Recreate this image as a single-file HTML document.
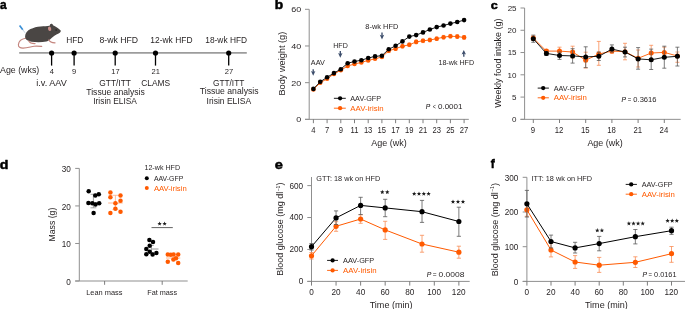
<!DOCTYPE html>
<html><head><meta charset="utf-8"><title>Figure 1</title>
<style>
html,body{margin:0;padding:0;background:#fff;}
body{width:685px;height:309px;overflow:hidden;}
svg{display:block;font-family:"Liberation Sans", sans-serif;will-change:transform;filter:blur(0.3px);}
</style></head><body>
<svg width="685" height="309" viewBox="0 0 685 309">
<rect width="685" height="309" fill="#fff"/>
<g fill="#231f20">
<text x="0.06" y="8.90" font-size="13" fill="#000" font-weight="bold" textLength="6.61" lengthAdjust="spacingAndGlyphs" stroke="#000" stroke-width="0.5" stroke-linejoin="round">a</text>
<g>
<path d="M25.6,38.2 C22,38.8 18.7,41.2 18.4,44.6 C18.2,47.2 20.2,48.1 23,48.1 C27.5,48.0 31,46.6 34.2,46.2 C37,45.9 39.5,46.2 41.7,46.4" fill="none" stroke="#c4857e" stroke-width="1.15" stroke-linecap="round"/>
<path d="M25.1,36.3 C25.2,33.5 27.5,30.5 30.5,29.1 C33.5,27.6 37,26.6 40.5,26.4 C44,26.2 47,26.3 49.6,25.8 L50.2,24.2 C50.8,23.4 52.6,23.4 53,25.2 C55.5,26.3 58.6,28.4 60.9,30.7 C60.6,32 59.7,33 58.6,33.5 C57,34.2 55.8,35 54.8,35.6 C53.6,36.4 52.6,37.2 51.6,38 C50.4,39.2 48.5,41 46.4,41.5 C42,42.3 36,42.3 31.4,41.7 C28.6,41.3 26.4,40.3 25.6,38.8 C25.2,38 25.1,37.1 25.1,36.3 Z" fill="#4a4644"/>
<ellipse cx="49.6" cy="28.8" rx="1.6" ry="2.2" transform="rotate(-15 49.6 28.8)" fill="#c98f8a"/>
<circle cx="56.1" cy="29.9" r="0.75" fill="#1e1b1a"/>
<path d="M28.8,41.0 C29.6,42.8 31.4,43.6 35.0,43.6" fill="none" stroke="#c4857e" stroke-width="1.3" stroke-linecap="round"/>
<path d="M48.9,40.0 C49.6,41.6 51.0,42.6 55.0,42.8" fill="none" stroke="#c4857e" stroke-width="1.3" stroke-linecap="round"/>
<line x1="19.6" y1="25.6" x2="22.8" y2="29.7" stroke="#3a8fd6" stroke-width="1.7"/>
<line x1="22.8" y1="29.7" x2="25.1" y2="32.9" stroke="#9db9d0" stroke-width="0.6"/>
</g>
<line x1="19.20" y1="52.85" x2="246.80" y2="52.85" stroke="#9c9c9c" stroke-width="1.8"/>
<line x1="51.60" y1="53.00" x2="51.60" y2="65.60" stroke="#000000" stroke-width="1.3"/>
<circle cx="51.60" cy="53.00" r="2.6" fill="#000000"/>
<line x1="74.10" y1="53.00" x2="74.10" y2="65.60" stroke="#000000" stroke-width="1.3"/>
<circle cx="74.10" cy="53.00" r="2.6" fill="#000000"/>
<line x1="115.20" y1="53.00" x2="115.20" y2="65.60" stroke="#000000" stroke-width="1.3"/>
<circle cx="115.20" cy="53.00" r="2.6" fill="#000000"/>
<line x1="155.50" y1="53.00" x2="155.50" y2="65.60" stroke="#000000" stroke-width="1.3"/>
<circle cx="155.50" cy="53.00" r="2.6" fill="#000000"/>
<line x1="228.70" y1="53.00" x2="228.70" y2="65.60" stroke="#000000" stroke-width="1.3"/>
<circle cx="228.70" cy="53.00" r="2.6" fill="#000000"/>
<text x="66.15" y="42.70" font-size="8.2" textLength="17.14" lengthAdjust="spacingAndGlyphs">HFD</text>
<text x="99.43" y="42.70" font-size="8.2" textLength="38.57" lengthAdjust="spacingAndGlyphs">8-wk HFD</text>
<text x="150.37" y="42.70" font-size="8.2" textLength="42.12" lengthAdjust="spacingAndGlyphs">12-wk HFD</text>
<text x="205.28" y="42.70" font-size="8.2" textLength="41.81" lengthAdjust="spacingAndGlyphs">18-wk HFD</text>
<text x="49.73" y="73.80" font-size="6.4" textLength="4.20" lengthAdjust="spacingAndGlyphs">4</text>
<text x="71.93" y="73.80" font-size="6.4" textLength="4.20" lengthAdjust="spacingAndGlyphs">9</text>
<text x="111.22" y="73.80" font-size="6.4" textLength="8.40" lengthAdjust="spacingAndGlyphs">17</text>
<text x="151.48" y="73.80" font-size="6.4" textLength="8.40" lengthAdjust="spacingAndGlyphs">21</text>
<text x="224.88" y="73.80" font-size="6.4" textLength="8.40" lengthAdjust="spacingAndGlyphs">27</text>
<text x="0.00" y="73.20" font-size="8.2" textLength="39.26" lengthAdjust="spacingAndGlyphs">Age (wks)</text>
<text x="36.24" y="85.60" font-size="8.2" textLength="30.62" lengthAdjust="spacingAndGlyphs">i.v. AAV</text>
<text x="99.31" y="85.70" font-size="8.2" textLength="31.64" lengthAdjust="spacingAndGlyphs">GTT/ITT</text>
<text x="86.27" y="94.60" font-size="8.2" textLength="58.50" lengthAdjust="spacingAndGlyphs">Tissue analysis</text>
<text x="93.25" y="104.40" font-size="8.2" textLength="43.61" lengthAdjust="spacingAndGlyphs">Irisin ELISA</text>
<text x="141.21" y="85.70" font-size="8.2" textLength="28.95" lengthAdjust="spacingAndGlyphs">CLAMS</text>
<text x="212.91" y="85.70" font-size="8.2" textLength="31.43" lengthAdjust="spacingAndGlyphs">GTT/ITT</text>
<text x="199.76" y="94.00" font-size="8.2" textLength="58.81" lengthAdjust="spacingAndGlyphs">Tissue analysis</text>
<text x="206.53" y="103.80" font-size="8.2" textLength="44.63" lengthAdjust="spacingAndGlyphs">Irisin ELISA</text>
<text x="274.79" y="8.80" font-size="13" fill="#000" font-weight="bold" textLength="8.41" lengthAdjust="spacingAndGlyphs" stroke="#000" stroke-width="0.5" stroke-linejoin="round">b</text>
<line x1="309.20" y1="9.30" x2="309.20" y2="119.35" stroke="#8f8f8f" stroke-width="1"/>
<line x1="305.00" y1="119.35" x2="468.80" y2="119.35" stroke="#8f8f8f" stroke-width="1"/>
<line x1="305.00" y1="119.35" x2="309.20" y2="119.35" stroke="#8f8f8f" stroke-width="1"/>
<text x="296.24" y="122.30" font-size="8.0" textLength="4.98" lengthAdjust="spacingAndGlyphs">0</text>
<line x1="305.00" y1="82.67" x2="309.20" y2="82.67" stroke="#8f8f8f" stroke-width="1"/>
<text x="291.26" y="85.62" font-size="8.0" textLength="9.97" lengthAdjust="spacingAndGlyphs">20</text>
<line x1="305.00" y1="45.98" x2="309.20" y2="45.98" stroke="#8f8f8f" stroke-width="1"/>
<text x="291.26" y="48.93" font-size="8.0" textLength="9.97" lengthAdjust="spacingAndGlyphs">40</text>
<line x1="305.00" y1="9.30" x2="309.20" y2="9.30" stroke="#8f8f8f" stroke-width="1"/>
<text x="291.26" y="12.25" font-size="8.0" textLength="9.97" lengthAdjust="spacingAndGlyphs">60</text>
<line x1="313.40" y1="119.35" x2="313.40" y2="123.20" stroke="#6f6f6f" stroke-width="0.9"/>
<text x="311.31" y="132.80" font-size="8.2" textLength="4.24" lengthAdjust="spacingAndGlyphs">4</text>
<line x1="327.10" y1="119.35" x2="327.10" y2="123.20" stroke="#6f6f6f" stroke-width="0.9"/>
<text x="324.96" y="132.80" font-size="8.2" textLength="4.24" lengthAdjust="spacingAndGlyphs">7</text>
<line x1="340.80" y1="119.35" x2="340.80" y2="123.20" stroke="#6f6f6f" stroke-width="0.9"/>
<text x="338.66" y="132.80" font-size="8.2" textLength="4.24" lengthAdjust="spacingAndGlyphs">9</text>
<line x1="354.50" y1="119.35" x2="354.50" y2="123.20" stroke="#6f6f6f" stroke-width="0.9"/>
<text x="350.46" y="132.80" font-size="8.2" textLength="7.92" lengthAdjust="spacingAndGlyphs">11</text>
<line x1="368.20" y1="119.35" x2="368.20" y2="123.20" stroke="#6f6f6f" stroke-width="0.9"/>
<text x="363.88" y="132.80" font-size="8.2" textLength="8.48" lengthAdjust="spacingAndGlyphs">13</text>
<line x1="381.90" y1="119.35" x2="381.90" y2="123.20" stroke="#6f6f6f" stroke-width="0.9"/>
<text x="377.58" y="132.80" font-size="8.2" textLength="8.48" lengthAdjust="spacingAndGlyphs">15</text>
<line x1="395.60" y1="119.35" x2="395.60" y2="123.20" stroke="#6f6f6f" stroke-width="0.9"/>
<text x="391.28" y="132.80" font-size="8.2" textLength="8.48" lengthAdjust="spacingAndGlyphs">17</text>
<line x1="409.30" y1="119.35" x2="409.30" y2="123.20" stroke="#6f6f6f" stroke-width="0.9"/>
<text x="404.98" y="132.80" font-size="8.2" textLength="8.48" lengthAdjust="spacingAndGlyphs">19</text>
<line x1="423.00" y1="119.35" x2="423.00" y2="123.20" stroke="#6f6f6f" stroke-width="0.9"/>
<text x="418.73" y="132.80" font-size="8.2" textLength="8.48" lengthAdjust="spacingAndGlyphs">21</text>
<line x1="436.70" y1="119.35" x2="436.70" y2="123.20" stroke="#6f6f6f" stroke-width="0.9"/>
<text x="432.43" y="132.80" font-size="8.2" textLength="8.48" lengthAdjust="spacingAndGlyphs">23</text>
<line x1="450.40" y1="119.35" x2="450.40" y2="123.20" stroke="#6f6f6f" stroke-width="0.9"/>
<text x="446.13" y="132.80" font-size="8.2" textLength="8.48" lengthAdjust="spacingAndGlyphs">25</text>
<line x1="464.10" y1="119.35" x2="464.10" y2="123.20" stroke="#6f6f6f" stroke-width="0.9"/>
<text x="459.83" y="132.80" font-size="8.2" textLength="8.48" lengthAdjust="spacingAndGlyphs">27</text>
<text x="371.30" y="145.60" font-size="9" textLength="35.47" lengthAdjust="spacingAndGlyphs">Age (wk)</text>
<text x="-0.72" y="0" transform="translate(285.20,94.90) rotate(-90)" font-size="9" textLength="63.89" lengthAdjust="spacingAndGlyphs">Body weight (g)</text>
<line x1="388.75" y1="49.00" x2="388.75" y2="52.60" stroke="#f98d55" stroke-width="0.7"/>
<line x1="387.25" y1="49.00" x2="390.25" y2="49.00" stroke="#f98d55" stroke-width="0.7"/>
<line x1="387.25" y1="52.60" x2="390.25" y2="52.60" stroke="#f98d55" stroke-width="0.7"/>
<line x1="395.60" y1="46.90" x2="395.60" y2="50.50" stroke="#f98d55" stroke-width="0.7"/>
<line x1="394.10" y1="46.90" x2="397.10" y2="46.90" stroke="#f98d55" stroke-width="0.7"/>
<line x1="394.10" y1="50.50" x2="397.10" y2="50.50" stroke="#f98d55" stroke-width="0.7"/>
<line x1="402.45" y1="44.40" x2="402.45" y2="48.00" stroke="#f98d55" stroke-width="0.7"/>
<line x1="400.95" y1="44.40" x2="403.95" y2="44.40" stroke="#f98d55" stroke-width="0.7"/>
<line x1="400.95" y1="48.00" x2="403.95" y2="48.00" stroke="#f98d55" stroke-width="0.7"/>
<line x1="409.30" y1="43.00" x2="409.30" y2="46.60" stroke="#f98d55" stroke-width="0.7"/>
<line x1="407.80" y1="43.00" x2="410.80" y2="43.00" stroke="#f98d55" stroke-width="0.7"/>
<line x1="407.80" y1="46.60" x2="410.80" y2="46.60" stroke="#f98d55" stroke-width="0.7"/>
<line x1="416.15" y1="40.10" x2="416.15" y2="43.70" stroke="#f98d55" stroke-width="0.7"/>
<line x1="414.65" y1="40.10" x2="417.65" y2="40.10" stroke="#f98d55" stroke-width="0.7"/>
<line x1="414.65" y1="43.70" x2="417.65" y2="43.70" stroke="#f98d55" stroke-width="0.7"/>
<line x1="423.00" y1="39.00" x2="423.00" y2="42.60" stroke="#f98d55" stroke-width="0.7"/>
<line x1="421.50" y1="39.00" x2="424.50" y2="39.00" stroke="#f98d55" stroke-width="0.7"/>
<line x1="421.50" y1="42.60" x2="424.50" y2="42.60" stroke="#f98d55" stroke-width="0.7"/>
<line x1="429.85" y1="38.20" x2="429.85" y2="41.80" stroke="#f98d55" stroke-width="0.7"/>
<line x1="428.35" y1="38.20" x2="431.35" y2="38.20" stroke="#f98d55" stroke-width="0.7"/>
<line x1="428.35" y1="41.80" x2="431.35" y2="41.80" stroke="#f98d55" stroke-width="0.7"/>
<line x1="436.70" y1="36.90" x2="436.70" y2="40.50" stroke="#f98d55" stroke-width="0.7"/>
<line x1="435.20" y1="36.90" x2="438.20" y2="36.90" stroke="#f98d55" stroke-width="0.7"/>
<line x1="435.20" y1="40.50" x2="438.20" y2="40.50" stroke="#f98d55" stroke-width="0.7"/>
<line x1="443.55" y1="35.40" x2="443.55" y2="39.00" stroke="#f98d55" stroke-width="0.7"/>
<line x1="442.05" y1="35.40" x2="445.05" y2="35.40" stroke="#f98d55" stroke-width="0.7"/>
<line x1="442.05" y1="39.00" x2="445.05" y2="39.00" stroke="#f98d55" stroke-width="0.7"/>
<line x1="450.40" y1="34.40" x2="450.40" y2="38.00" stroke="#f98d55" stroke-width="0.7"/>
<line x1="448.90" y1="34.40" x2="451.90" y2="34.40" stroke="#f98d55" stroke-width="0.7"/>
<line x1="448.90" y1="38.00" x2="451.90" y2="38.00" stroke="#f98d55" stroke-width="0.7"/>
<line x1="457.25" y1="34.80" x2="457.25" y2="38.40" stroke="#f98d55" stroke-width="0.7"/>
<line x1="455.75" y1="34.80" x2="458.75" y2="34.80" stroke="#f98d55" stroke-width="0.7"/>
<line x1="455.75" y1="38.40" x2="458.75" y2="38.40" stroke="#f98d55" stroke-width="0.7"/>
<line x1="464.10" y1="35.60" x2="464.10" y2="39.20" stroke="#f98d55" stroke-width="0.7"/>
<line x1="462.60" y1="35.60" x2="465.60" y2="35.60" stroke="#f98d55" stroke-width="0.7"/>
<line x1="462.60" y1="39.20" x2="465.60" y2="39.20" stroke="#f98d55" stroke-width="0.7"/>
<polyline points="313.40,89.40 320.25,82.80 327.10,78.70 333.95,74.00 340.80,70.20 347.65,66.00 354.50,64.00 361.35,62.40 368.20,60.40 375.05,58.80 381.90,57.00 388.75,50.80 395.60,48.70 402.45,46.20 409.30,44.80 416.15,41.90 423.00,40.80 429.85,40.00 436.70,38.70 443.55,37.20 450.40,36.20 457.25,36.60 464.10,37.40" fill="none" stroke="#ff5a00" stroke-width="0.9" stroke-linejoin="round"/>
<circle cx="313.40" cy="89.40" r="2.3" fill="#ff5a00"/>
<circle cx="320.25" cy="82.80" r="2.3" fill="#ff5a00"/>
<circle cx="327.10" cy="78.70" r="2.3" fill="#ff5a00"/>
<circle cx="333.95" cy="74.00" r="2.3" fill="#ff5a00"/>
<circle cx="340.80" cy="70.20" r="2.3" fill="#ff5a00"/>
<circle cx="347.65" cy="66.00" r="2.3" fill="#ff5a00"/>
<circle cx="354.50" cy="64.00" r="2.3" fill="#ff5a00"/>
<circle cx="361.35" cy="62.40" r="2.3" fill="#ff5a00"/>
<circle cx="368.20" cy="60.40" r="2.3" fill="#ff5a00"/>
<circle cx="375.05" cy="58.80" r="2.3" fill="#ff5a00"/>
<circle cx="381.90" cy="57.00" r="2.3" fill="#ff5a00"/>
<circle cx="388.75" cy="50.80" r="2.3" fill="#ff5a00"/>
<circle cx="395.60" cy="48.70" r="2.3" fill="#ff5a00"/>
<circle cx="402.45" cy="46.20" r="2.3" fill="#ff5a00"/>
<circle cx="409.30" cy="44.80" r="2.3" fill="#ff5a00"/>
<circle cx="416.15" cy="41.90" r="2.3" fill="#ff5a00"/>
<circle cx="423.00" cy="40.80" r="2.3" fill="#ff5a00"/>
<circle cx="429.85" cy="40.00" r="2.3" fill="#ff5a00"/>
<circle cx="436.70" cy="38.70" r="2.3" fill="#ff5a00"/>
<circle cx="443.55" cy="37.20" r="2.3" fill="#ff5a00"/>
<circle cx="450.40" cy="36.20" r="2.3" fill="#ff5a00"/>
<circle cx="457.25" cy="36.60" r="2.3" fill="#ff5a00"/>
<circle cx="464.10" cy="37.40" r="2.3" fill="#ff5a00"/>
<polyline points="313.40,88.90 320.25,81.80 327.10,77.30 333.95,73.10 340.80,69.20 347.65,63.20 354.50,61.50 361.35,60.20 368.20,58.00 375.05,56.40 381.90,55.70 388.75,49.30 395.60,45.80 402.45,41.40 409.30,36.60 416.15,35.10 423.00,32.40 429.85,29.50 436.70,27.10 443.55,25.50 450.40,23.60 457.25,22.00 464.10,20.10" fill="none" stroke="#000000" stroke-width="0.9" stroke-linejoin="round"/>
<circle cx="313.40" cy="88.90" r="2.3" fill="#000000"/>
<circle cx="320.25" cy="81.80" r="2.3" fill="#000000"/>
<circle cx="327.10" cy="77.30" r="2.3" fill="#000000"/>
<circle cx="333.95" cy="73.10" r="2.3" fill="#000000"/>
<circle cx="340.80" cy="69.20" r="2.3" fill="#000000"/>
<circle cx="347.65" cy="63.20" r="2.3" fill="#000000"/>
<circle cx="354.50" cy="61.50" r="2.3" fill="#000000"/>
<circle cx="361.35" cy="60.20" r="2.3" fill="#000000"/>
<circle cx="368.20" cy="58.00" r="2.3" fill="#000000"/>
<circle cx="375.05" cy="56.40" r="2.3" fill="#000000"/>
<circle cx="381.90" cy="55.70" r="2.3" fill="#000000"/>
<circle cx="388.75" cy="49.30" r="2.3" fill="#000000"/>
<circle cx="395.60" cy="45.80" r="2.3" fill="#000000"/>
<circle cx="402.45" cy="41.40" r="2.3" fill="#000000"/>
<circle cx="409.30" cy="36.60" r="2.3" fill="#000000"/>
<circle cx="416.15" cy="35.10" r="2.3" fill="#000000"/>
<circle cx="423.00" cy="32.40" r="2.3" fill="#000000"/>
<circle cx="429.85" cy="29.50" r="2.3" fill="#000000"/>
<circle cx="436.70" cy="27.10" r="2.3" fill="#000000"/>
<circle cx="443.55" cy="25.50" r="2.3" fill="#000000"/>
<circle cx="450.40" cy="23.60" r="2.3" fill="#000000"/>
<circle cx="457.25" cy="22.00" r="2.3" fill="#000000"/>
<circle cx="464.10" cy="20.10" r="2.3" fill="#000000"/>
<text x="310.80" y="65.40" font-size="7.2" textLength="13.96" lengthAdjust="spacingAndGlyphs">AAV</text>
<line x1="313.20" y1="69.20" x2="313.20" y2="72.80" stroke="#3c4d6b" stroke-width="1.35"/>
<path d="M311.00,71.10 L313.20,72.10 L315.40,71.10 L313.20,75.80 Z" fill="#3c4d6b"/>
<text x="333.24" y="48.10" font-size="7.4" textLength="14.60" lengthAdjust="spacingAndGlyphs">HFD</text>
<line x1="340.30" y1="51.00" x2="340.30" y2="54.80" stroke="#3c4d6b" stroke-width="1.35"/>
<path d="M338.10,53.10 L340.30,54.10 L342.50,53.10 L340.30,57.80 Z" fill="#3c4d6b"/>
<text x="365.37" y="29.00" font-size="7.2" textLength="32.89" lengthAdjust="spacingAndGlyphs">8-wk HFD</text>
<line x1="382.00" y1="32.40" x2="382.00" y2="36.40" stroke="#3c4d6b" stroke-width="1.35"/>
<path d="M379.80,34.70 L382.00,35.70 L384.20,34.70 L382.00,39.40 Z" fill="#3c4d6b"/>
<text x="438.45" y="64.90" font-size="7.2" textLength="35.69" lengthAdjust="spacingAndGlyphs">18-wk HFD</text>
<line x1="463.80" y1="56.70" x2="463.80" y2="52.90" stroke="#3c4d6b" stroke-width="1.35"/>
<path d="M461.60,54.60 L463.80,53.60 L466.00,54.60 L463.80,49.90 Z" fill="#3c4d6b"/>
<line x1="333.90" y1="98.30" x2="345.80" y2="98.30" stroke="#000000" stroke-width="0.9"/>
<circle cx="340.10" cy="98.30" r="2.15" fill="#000000"/>
<line x1="333.90" y1="108.20" x2="345.80" y2="108.20" stroke="#ff5a00" stroke-width="0.9"/>
<circle cx="340.10" cy="108.20" r="2.15" fill="#ff5a00"/>
<text x="350.30" y="100.80" font-size="7.0" textLength="30.80" lengthAdjust="spacingAndGlyphs">AAV-GFP</text>
<text x="350.30" y="110.70" font-size="7.0" fill="#ff5a00" textLength="33.34" lengthAdjust="spacingAndGlyphs">AAV-irisin</text>
<text x="425.86" y="108.90" font-size="7.8" font-style="italic" textLength="4.45" lengthAdjust="spacingAndGlyphs" stroke="#231f20" stroke-width="0.12" stroke-linejoin="round">P</text>
<text x="432.75" y="109.30" font-size="7.3" textLength="3.15" lengthAdjust="spacingAndGlyphs">&lt;</text>
<text x="437.95" y="108.90" font-size="7.3" textLength="24.58" lengthAdjust="spacingAndGlyphs">0.0001</text>
<text x="490.66" y="9.20" font-size="11.5" fill="#000" font-weight="bold" textLength="7.01" lengthAdjust="spacingAndGlyphs" stroke="#000" stroke-width="0.5" stroke-linejoin="round">c</text>
<line x1="524.60" y1="8.00" x2="524.60" y2="119.35" stroke="#8f8f8f" stroke-width="1"/>
<line x1="520.50" y1="119.35" x2="680.70" y2="119.35" stroke="#8f8f8f" stroke-width="1"/>
<line x1="520.50" y1="119.35" x2="524.60" y2="119.35" stroke="#8f8f8f" stroke-width="1"/>
<text x="511.95" y="122.20" font-size="8.0">0</text>
<line x1="520.50" y1="97.08" x2="524.60" y2="97.08" stroke="#8f8f8f" stroke-width="1"/>
<text x="512.08" y="99.93" font-size="8.0">5</text>
<line x1="520.50" y1="74.81" x2="524.60" y2="74.81" stroke="#8f8f8f" stroke-width="1"/>
<text x="507.50" y="77.66" font-size="8.0">10</text>
<line x1="520.50" y1="52.54" x2="524.60" y2="52.54" stroke="#8f8f8f" stroke-width="1"/>
<text x="507.63" y="55.39" font-size="8.0">15</text>
<line x1="520.50" y1="30.27" x2="524.60" y2="30.27" stroke="#8f8f8f" stroke-width="1"/>
<text x="507.50" y="33.12" font-size="8.0">20</text>
<line x1="520.50" y1="8.00" x2="524.60" y2="8.00" stroke="#8f8f8f" stroke-width="1"/>
<text x="507.63" y="10.85" font-size="8.0">25</text>
<line x1="533.30" y1="119.35" x2="533.30" y2="123.00" stroke="#6f6f6f" stroke-width="0.9"/>
<text x="530.81" y="132.80" font-size="8.2" textLength="4.33" lengthAdjust="spacingAndGlyphs">9</text>
<line x1="559.50" y1="119.35" x2="559.50" y2="123.00" stroke="#6f6f6f" stroke-width="0.9"/>
<text x="554.78" y="132.80" font-size="8.2" textLength="8.66" lengthAdjust="spacingAndGlyphs">12</text>
<line x1="585.70" y1="119.35" x2="585.70" y2="123.00" stroke="#6f6f6f" stroke-width="0.9"/>
<text x="580.98" y="132.80" font-size="8.2" textLength="8.66" lengthAdjust="spacingAndGlyphs">15</text>
<line x1="611.90" y1="119.35" x2="611.90" y2="123.00" stroke="#6f6f6f" stroke-width="0.9"/>
<text x="607.18" y="132.80" font-size="8.2" textLength="8.66" lengthAdjust="spacingAndGlyphs">18</text>
<line x1="638.10" y1="119.35" x2="638.10" y2="123.00" stroke="#6f6f6f" stroke-width="0.9"/>
<text x="633.44" y="132.80" font-size="8.2" textLength="8.66" lengthAdjust="spacingAndGlyphs">21</text>
<line x1="664.30" y1="119.35" x2="664.30" y2="123.00" stroke="#6f6f6f" stroke-width="0.9"/>
<text x="659.58" y="132.80" font-size="8.2" textLength="8.66" lengthAdjust="spacingAndGlyphs">24</text>
<text x="587.40" y="145.60" font-size="9" textLength="35.36" lengthAdjust="spacingAndGlyphs">Age (wk)</text>
<text x="0.00" y="0" transform="translate(500.90,107.70) rotate(-90)" font-size="9" textLength="89.16" lengthAdjust="spacingAndGlyphs">Weekly food intake (g)</text>
<line x1="533.30" y1="36.00" x2="533.30" y2="40.50" stroke="#f98d55" stroke-width="0.8"/>
<line x1="531.30" y1="36.00" x2="535.30" y2="36.00" stroke="#f98d55" stroke-width="0.8"/>
<line x1="531.30" y1="40.50" x2="535.30" y2="40.50" stroke="#f98d55" stroke-width="0.8"/>
<line x1="546.40" y1="49.50" x2="546.40" y2="53.00" stroke="#f98d55" stroke-width="0.8"/>
<line x1="544.40" y1="49.50" x2="548.40" y2="49.50" stroke="#f98d55" stroke-width="0.8"/>
<line x1="544.40" y1="53.00" x2="548.40" y2="53.00" stroke="#f98d55" stroke-width="0.8"/>
<line x1="559.50" y1="47.20" x2="559.50" y2="55.00" stroke="#f98d55" stroke-width="0.8"/>
<line x1="557.50" y1="47.20" x2="561.50" y2="47.20" stroke="#f98d55" stroke-width="0.8"/>
<line x1="557.50" y1="55.00" x2="561.50" y2="55.00" stroke="#f98d55" stroke-width="0.8"/>
<line x1="572.60" y1="46.20" x2="572.60" y2="58.00" stroke="#f98d55" stroke-width="0.8"/>
<line x1="570.60" y1="46.20" x2="574.60" y2="46.20" stroke="#f98d55" stroke-width="0.8"/>
<line x1="570.60" y1="58.00" x2="574.60" y2="58.00" stroke="#f98d55" stroke-width="0.8"/>
<line x1="585.70" y1="52.20" x2="585.70" y2="68.00" stroke="#f98d55" stroke-width="0.8"/>
<line x1="583.70" y1="52.20" x2="587.70" y2="52.20" stroke="#f98d55" stroke-width="0.8"/>
<line x1="583.70" y1="68.00" x2="587.70" y2="68.00" stroke="#f98d55" stroke-width="0.8"/>
<line x1="598.80" y1="41.40" x2="598.80" y2="65.30" stroke="#f98d55" stroke-width="0.8"/>
<line x1="596.80" y1="41.40" x2="600.80" y2="41.40" stroke="#f98d55" stroke-width="0.8"/>
<line x1="596.80" y1="65.30" x2="600.80" y2="65.30" stroke="#f98d55" stroke-width="0.8"/>
<line x1="611.90" y1="48.80" x2="611.90" y2="53.40" stroke="#f98d55" stroke-width="0.8"/>
<line x1="609.90" y1="48.80" x2="613.90" y2="48.80" stroke="#f98d55" stroke-width="0.8"/>
<line x1="609.90" y1="53.40" x2="613.90" y2="53.40" stroke="#f98d55" stroke-width="0.8"/>
<line x1="625.00" y1="43.30" x2="625.00" y2="59.80" stroke="#f98d55" stroke-width="0.8"/>
<line x1="623.00" y1="43.30" x2="627.00" y2="43.30" stroke="#f98d55" stroke-width="0.8"/>
<line x1="623.00" y1="59.80" x2="627.00" y2="59.80" stroke="#f98d55" stroke-width="0.8"/>
<line x1="638.10" y1="50.00" x2="638.10" y2="67.00" stroke="#f98d55" stroke-width="0.8"/>
<line x1="636.10" y1="50.00" x2="640.10" y2="50.00" stroke="#f98d55" stroke-width="0.8"/>
<line x1="636.10" y1="67.00" x2="640.10" y2="67.00" stroke="#f98d55" stroke-width="0.8"/>
<line x1="651.20" y1="45.30" x2="651.20" y2="60.80" stroke="#f98d55" stroke-width="0.8"/>
<line x1="649.20" y1="45.30" x2="653.20" y2="45.30" stroke="#f98d55" stroke-width="0.8"/>
<line x1="649.20" y1="60.80" x2="653.20" y2="60.80" stroke="#f98d55" stroke-width="0.8"/>
<line x1="664.30" y1="47.20" x2="664.30" y2="57.80" stroke="#f98d55" stroke-width="0.8"/>
<line x1="662.30" y1="47.20" x2="666.30" y2="47.20" stroke="#f98d55" stroke-width="0.8"/>
<line x1="662.30" y1="57.80" x2="666.30" y2="57.80" stroke="#f98d55" stroke-width="0.8"/>
<line x1="677.40" y1="52.00" x2="677.40" y2="62.30" stroke="#f98d55" stroke-width="0.8"/>
<line x1="675.40" y1="52.00" x2="679.40" y2="52.00" stroke="#f98d55" stroke-width="0.8"/>
<line x1="675.40" y1="62.30" x2="679.40" y2="62.30" stroke="#f98d55" stroke-width="0.8"/>
<polyline points="533.30,38.00 546.40,51.10 559.50,51.10 572.60,52.00 585.70,60.20 598.80,54.00 611.90,51.10 625.00,51.70 638.10,58.30 651.20,53.00 664.30,52.40 677.40,56.00" fill="none" stroke="#ff5a00" stroke-width="0.9" stroke-linejoin="round"/>
<circle cx="533.30" cy="38.00" r="2.5" fill="#ff5a00"/>
<circle cx="546.40" cy="51.10" r="2.5" fill="#ff5a00"/>
<circle cx="559.50" cy="51.10" r="2.5" fill="#ff5a00"/>
<circle cx="572.60" cy="52.00" r="2.5" fill="#ff5a00"/>
<circle cx="585.70" cy="60.20" r="2.5" fill="#ff5a00"/>
<circle cx="598.80" cy="54.00" r="2.5" fill="#ff5a00"/>
<circle cx="611.90" cy="51.10" r="2.5" fill="#ff5a00"/>
<circle cx="625.00" cy="51.70" r="2.5" fill="#ff5a00"/>
<circle cx="638.10" cy="58.30" r="2.5" fill="#ff5a00"/>
<circle cx="651.20" cy="53.00" r="2.5" fill="#ff5a00"/>
<circle cx="664.30" cy="52.40" r="2.5" fill="#ff5a00"/>
<circle cx="677.40" cy="56.00" r="2.5" fill="#ff5a00"/>
<line x1="533.30" y1="35.10" x2="533.30" y2="42.30" stroke="#5a5a5a" stroke-width="0.8"/>
<line x1="531.30" y1="35.10" x2="535.30" y2="35.10" stroke="#5a5a5a" stroke-width="0.8"/>
<line x1="531.30" y1="42.30" x2="535.30" y2="42.30" stroke="#5a5a5a" stroke-width="0.8"/>
<line x1="546.40" y1="51.50" x2="546.40" y2="55.50" stroke="#5a5a5a" stroke-width="0.8"/>
<line x1="544.40" y1="51.50" x2="548.40" y2="51.50" stroke="#5a5a5a" stroke-width="0.8"/>
<line x1="544.40" y1="55.50" x2="548.40" y2="55.50" stroke="#5a5a5a" stroke-width="0.8"/>
<line x1="559.50" y1="52.00" x2="559.50" y2="59.40" stroke="#5a5a5a" stroke-width="0.8"/>
<line x1="557.50" y1="52.00" x2="561.50" y2="52.00" stroke="#5a5a5a" stroke-width="0.8"/>
<line x1="557.50" y1="59.40" x2="561.50" y2="59.40" stroke="#5a5a5a" stroke-width="0.8"/>
<line x1="572.60" y1="48.70" x2="572.60" y2="63.10" stroke="#5a5a5a" stroke-width="0.8"/>
<line x1="570.60" y1="48.70" x2="574.60" y2="48.70" stroke="#5a5a5a" stroke-width="0.8"/>
<line x1="570.60" y1="63.10" x2="574.60" y2="63.10" stroke="#5a5a5a" stroke-width="0.8"/>
<line x1="585.70" y1="46.80" x2="585.70" y2="67.60" stroke="#5a5a5a" stroke-width="0.8"/>
<line x1="583.70" y1="46.80" x2="587.70" y2="46.80" stroke="#5a5a5a" stroke-width="0.8"/>
<line x1="583.70" y1="67.60" x2="587.70" y2="67.60" stroke="#5a5a5a" stroke-width="0.8"/>
<line x1="598.80" y1="52.00" x2="598.80" y2="60.50" stroke="#5a5a5a" stroke-width="0.8"/>
<line x1="596.80" y1="52.00" x2="600.80" y2="52.00" stroke="#5a5a5a" stroke-width="0.8"/>
<line x1="596.80" y1="60.50" x2="600.80" y2="60.50" stroke="#5a5a5a" stroke-width="0.8"/>
<line x1="611.90" y1="44.90" x2="611.90" y2="52.00" stroke="#5a5a5a" stroke-width="0.8"/>
<line x1="609.90" y1="44.90" x2="613.90" y2="44.90" stroke="#5a5a5a" stroke-width="0.8"/>
<line x1="609.90" y1="52.00" x2="613.90" y2="52.00" stroke="#5a5a5a" stroke-width="0.8"/>
<line x1="625.00" y1="47.20" x2="625.00" y2="56.90" stroke="#5a5a5a" stroke-width="0.8"/>
<line x1="623.00" y1="47.20" x2="627.00" y2="47.20" stroke="#5a5a5a" stroke-width="0.8"/>
<line x1="623.00" y1="56.90" x2="627.00" y2="56.90" stroke="#5a5a5a" stroke-width="0.8"/>
<line x1="638.10" y1="47.60" x2="638.10" y2="69.20" stroke="#5a5a5a" stroke-width="0.8"/>
<line x1="636.10" y1="47.60" x2="640.10" y2="47.60" stroke="#5a5a5a" stroke-width="0.8"/>
<line x1="636.10" y1="69.20" x2="640.10" y2="69.20" stroke="#5a5a5a" stroke-width="0.8"/>
<line x1="651.20" y1="49.10" x2="651.20" y2="69.50" stroke="#5a5a5a" stroke-width="0.8"/>
<line x1="649.20" y1="49.10" x2="653.20" y2="49.10" stroke="#5a5a5a" stroke-width="0.8"/>
<line x1="649.20" y1="69.50" x2="653.20" y2="69.50" stroke="#5a5a5a" stroke-width="0.8"/>
<line x1="664.30" y1="46.20" x2="664.30" y2="68.20" stroke="#5a5a5a" stroke-width="0.8"/>
<line x1="662.30" y1="46.20" x2="666.30" y2="46.20" stroke="#5a5a5a" stroke-width="0.8"/>
<line x1="662.30" y1="68.20" x2="666.30" y2="68.20" stroke="#5a5a5a" stroke-width="0.8"/>
<line x1="677.40" y1="47.20" x2="677.40" y2="66.00" stroke="#5a5a5a" stroke-width="0.8"/>
<line x1="675.40" y1="47.20" x2="679.40" y2="47.20" stroke="#5a5a5a" stroke-width="0.8"/>
<line x1="675.40" y1="66.00" x2="679.40" y2="66.00" stroke="#5a5a5a" stroke-width="0.8"/>
<polyline points="533.30,38.80 546.40,53.40 559.50,55.50 572.60,55.90 585.70,56.90 598.80,56.30 611.90,49.10 625.00,52.00 638.10,58.90 651.20,59.80 664.30,57.30 677.40,56.30" fill="none" stroke="#000000" stroke-width="0.9" stroke-linejoin="round"/>
<circle cx="533.30" cy="38.80" r="2.5" fill="#000000"/>
<circle cx="546.40" cy="53.40" r="2.5" fill="#000000"/>
<circle cx="559.50" cy="55.50" r="2.5" fill="#000000"/>
<circle cx="572.60" cy="55.90" r="2.5" fill="#000000"/>
<circle cx="585.70" cy="56.90" r="2.5" fill="#000000"/>
<circle cx="598.80" cy="56.30" r="2.5" fill="#000000"/>
<circle cx="611.90" cy="49.10" r="2.5" fill="#000000"/>
<circle cx="625.00" cy="52.00" r="2.5" fill="#000000"/>
<circle cx="638.10" cy="58.90" r="2.5" fill="#000000"/>
<circle cx="651.20" cy="59.80" r="2.5" fill="#000000"/>
<circle cx="664.30" cy="57.30" r="2.5" fill="#000000"/>
<circle cx="677.40" cy="56.30" r="2.5" fill="#000000"/>
<line x1="537.70" y1="88.10" x2="548.90" y2="88.10" stroke="#000000" stroke-width="0.9"/>
<circle cx="543.20" cy="88.10" r="2.15" fill="#000000"/>
<line x1="537.70" y1="97.80" x2="548.90" y2="97.80" stroke="#ff5a00" stroke-width="0.9"/>
<circle cx="543.20" cy="97.80" r="2.15" fill="#ff5a00"/>
<text x="553.70" y="90.60" font-size="7.0" textLength="31.01" lengthAdjust="spacingAndGlyphs">AAV-GFP</text>
<text x="553.70" y="100.20" font-size="7.0" fill="#ff5a00" textLength="33.24" lengthAdjust="spacingAndGlyphs">AAV-irisin</text>
<text x="621.56" y="101.70" font-size="7.8" font-style="italic" textLength="4.45" lengthAdjust="spacingAndGlyphs" stroke="#231f20" stroke-width="0.12" stroke-linejoin="round">P</text>
<text x="627.82" y="102.20" font-size="7.3" textLength="3.50" lengthAdjust="spacingAndGlyphs">=</text>
<text x="633.36" y="101.70" font-size="7.3" textLength="23.14" lengthAdjust="spacingAndGlyphs">0.3616</text>
<text x="-0.19" y="168.80" font-size="13" fill="#000" font-weight="bold" textLength="8.65" lengthAdjust="spacingAndGlyphs" stroke="#000" stroke-width="0.5" stroke-linejoin="round">d</text>
<line x1="79.30" y1="168.40" x2="79.30" y2="281.00" stroke="#8f8f8f" stroke-width="1"/>
<line x1="75.20" y1="281.00" x2="187.70" y2="281.00" stroke="#8f8f8f" stroke-width="1"/>
<line x1="75.20" y1="281.00" x2="79.30" y2="281.00" stroke="#8f8f8f" stroke-width="1"/>
<text x="66.34" y="284.70" font-size="8.2">0</text>
<line x1="75.20" y1="243.47" x2="79.30" y2="243.47" stroke="#8f8f8f" stroke-width="1"/>
<text x="61.78" y="247.17" font-size="8.2">10</text>
<line x1="75.20" y1="205.93" x2="79.30" y2="205.93" stroke="#8f8f8f" stroke-width="1"/>
<text x="61.78" y="209.63" font-size="8.2">20</text>
<line x1="75.20" y1="168.40" x2="79.30" y2="168.40" stroke="#8f8f8f" stroke-width="1"/>
<text x="61.78" y="172.10" font-size="8.2">30</text>
<line x1="104.60" y1="281.00" x2="104.60" y2="284.80" stroke="#6f6f6f" stroke-width="0.9"/>
<line x1="162.20" y1="281.00" x2="162.20" y2="284.80" stroke="#6f6f6f" stroke-width="0.9"/>
<text x="86.22" y="294.90" font-size="7.6" textLength="36.31" lengthAdjust="spacingAndGlyphs">Lean mass</text>
<text x="147.23" y="294.90" font-size="7.6" textLength="29.90" lengthAdjust="spacingAndGlyphs">Fat mass</text>
<text x="-0.68" y="0" transform="translate(54.90,240.90) rotate(-90)" font-size="8.6" textLength="33.93" lengthAdjust="spacingAndGlyphs">Mass (g)</text>
<text x="144.46" y="169.60" font-size="7.4" textLength="35.59" lengthAdjust="spacingAndGlyphs">12-wk HFD</text>
<circle cx="146.80" cy="178.30" r="2.0" fill="#000000"/>
<text x="153.90" y="180.90" font-size="7.4" textLength="29.39" lengthAdjust="spacingAndGlyphs">AAV-GFP</text>
<circle cx="146.80" cy="188.00" r="2.0" fill="#ff5a00"/>
<text x="153.90" y="190.60" font-size="7.4" fill="#ff5a00" textLength="32.83" lengthAdjust="spacingAndGlyphs">AAV-irisin</text>
<line x1="93.40" y1="194.30" x2="93.40" y2="207.80" stroke="#8a8a8a" stroke-width="0.8"/>
<line x1="90.50" y1="194.30" x2="96.30" y2="194.30" stroke="#8a8a8a" stroke-width="0.8"/>
<line x1="90.50" y1="207.80" x2="96.30" y2="207.80" stroke="#8a8a8a" stroke-width="0.8"/>
<line x1="87.30" y1="202.60" x2="100.70" y2="202.60" stroke="#8a8a8a" stroke-width="0.9"/>
<circle cx="88.70" cy="191.30" r="2.25" fill="#000000"/>
<circle cx="95.30" cy="195.50" r="2.25" fill="#000000"/>
<circle cx="98.80" cy="194.20" r="2.25" fill="#000000"/>
<circle cx="88.40" cy="202.90" r="2.25" fill="#000000"/>
<circle cx="92.30" cy="203.30" r="2.25" fill="#000000"/>
<circle cx="95.50" cy="204.60" r="2.25" fill="#000000"/>
<circle cx="99.20" cy="203.30" r="2.25" fill="#000000"/>
<circle cx="93.60" cy="213.00" r="2.25" fill="#000000"/>
<line x1="115.40" y1="195.30" x2="115.40" y2="209.50" stroke="#ffae85" stroke-width="0.8"/>
<line x1="112.50" y1="195.30" x2="118.30" y2="195.30" stroke="#ffae85" stroke-width="0.8"/>
<line x1="112.50" y1="209.50" x2="118.30" y2="209.50" stroke="#ffae85" stroke-width="0.8"/>
<line x1="108.20" y1="203.00" x2="122.70" y2="203.00" stroke="#ffae85" stroke-width="0.9"/>
<circle cx="110.40" cy="192.60" r="2.25" fill="#ff5a00"/>
<circle cx="110.40" cy="197.20" r="2.25" fill="#ff5a00"/>
<circle cx="120.50" cy="195.50" r="2.25" fill="#ff5a00"/>
<circle cx="120.50" cy="200.70" r="2.25" fill="#ff5a00"/>
<circle cx="115.40" cy="203.30" r="2.25" fill="#ff5a00"/>
<circle cx="115.40" cy="208.80" r="2.25" fill="#ff5a00"/>
<circle cx="110.40" cy="213.00" r="2.25" fill="#ff5a00"/>
<circle cx="120.50" cy="211.70" r="2.25" fill="#ff5a00"/>
<line x1="151.30" y1="245.50" x2="151.30" y2="252.50" stroke="#8a8a8a" stroke-width="0.8"/>
<line x1="148.90" y1="245.50" x2="153.70" y2="245.50" stroke="#8a8a8a" stroke-width="0.8"/>
<line x1="148.90" y1="252.50" x2="153.70" y2="252.50" stroke="#8a8a8a" stroke-width="0.8"/>
<circle cx="149.40" cy="240.10" r="2.25" fill="#000000"/>
<circle cx="153.00" cy="242.00" r="2.25" fill="#000000"/>
<circle cx="149.70" cy="245.80" r="2.25" fill="#000000"/>
<circle cx="146.30" cy="249.00" r="2.25" fill="#000000"/>
<circle cx="149.70" cy="251.70" r="2.25" fill="#000000"/>
<circle cx="146.30" cy="254.20" r="2.25" fill="#000000"/>
<circle cx="152.60" cy="254.60" r="2.25" fill="#000000"/>
<circle cx="156.40" cy="252.90" r="2.25" fill="#000000"/>
<line x1="151.00" y1="249.00" x2="158.50" y2="249.00" stroke="#8a8a8a" stroke-width="0.9"/>
<line x1="166.00" y1="258.00" x2="180.30" y2="258.00" stroke="#ffae85" stroke-width="0.9"/>
<circle cx="167.80" cy="254.50" r="2.25" fill="#ff5a00"/>
<circle cx="170.80" cy="254.80" r="2.25" fill="#ff5a00"/>
<circle cx="173.60" cy="254.50" r="2.25" fill="#ff5a00"/>
<circle cx="178.20" cy="254.50" r="2.25" fill="#ff5a00"/>
<circle cx="173.40" cy="259.50" r="2.25" fill="#ff5a00"/>
<circle cx="176.00" cy="258.20" r="2.25" fill="#ff5a00"/>
<circle cx="167.80" cy="261.70" r="2.25" fill="#ff5a00"/>
<circle cx="178.20" cy="263.10" r="2.25" fill="#ff5a00"/>
<line x1="151.50" y1="227.60" x2="172.80" y2="227.60" stroke="#3a3a3a" stroke-width="0.8"/>
<polygon points="159.60,221.45 160.17,222.97 161.79,223.04 160.52,224.05 160.95,225.61 159.60,224.72 158.25,225.61 158.68,224.05 157.41,223.04 159.03,222.97" fill="#1a1a1a"/>
<polygon points="164.60,221.45 165.17,222.97 166.79,223.04 165.52,224.05 165.95,225.61 164.60,224.72 163.25,225.61 163.68,224.05 162.41,223.04 164.03,222.97" fill="#1a1a1a"/>
<text x="274.89" y="168.70" font-size="13" fill="#000" font-weight="bold" textLength="8.12" lengthAdjust="spacingAndGlyphs" stroke="#000" stroke-width="0.5" stroke-linejoin="round">e</text>
<line x1="311.50" y1="177.00" x2="311.50" y2="281.40" stroke="#8f8f8f" stroke-width="1"/>
<line x1="307.30" y1="281.40" x2="469.70" y2="281.40" stroke="#8f8f8f" stroke-width="1"/>
<line x1="307.30" y1="281.40" x2="311.50" y2="281.40" stroke="#8f8f8f" stroke-width="1"/>
<text x="298.64" y="284.30" font-size="8.2">0</text>
<line x1="307.30" y1="249.47" x2="311.50" y2="249.47" stroke="#8f8f8f" stroke-width="1"/>
<text x="289.52" y="252.37" font-size="8.2">200</text>
<line x1="307.30" y1="217.53" x2="311.50" y2="217.53" stroke="#8f8f8f" stroke-width="1"/>
<text x="289.52" y="220.43" font-size="8.2">400</text>
<line x1="307.30" y1="185.60" x2="311.50" y2="185.60" stroke="#8f8f8f" stroke-width="1"/>
<text x="289.52" y="188.50" font-size="8.2">600</text>
<line x1="311.50" y1="281.40" x2="311.50" y2="285.60" stroke="#6f6f6f" stroke-width="0.9"/>
<text x="309.19" y="295.00" font-size="8.2">0</text>
<line x1="336.06" y1="281.40" x2="336.06" y2="285.60" stroke="#6f6f6f" stroke-width="0.9"/>
<text x="331.41" y="295.00" font-size="8.2">20</text>
<line x1="360.62" y1="281.40" x2="360.62" y2="285.60" stroke="#6f6f6f" stroke-width="0.9"/>
<text x="356.10" y="295.00" font-size="8.2">40</text>
<line x1="385.18" y1="281.40" x2="385.18" y2="285.60" stroke="#6f6f6f" stroke-width="0.9"/>
<text x="380.53" y="295.00" font-size="8.2">60</text>
<line x1="409.74" y1="281.40" x2="409.74" y2="285.60" stroke="#6f6f6f" stroke-width="0.9"/>
<text x="405.15" y="295.00" font-size="8.2">80</text>
<line x1="434.30" y1="281.40" x2="434.30" y2="285.60" stroke="#6f6f6f" stroke-width="0.9"/>
<text x="427.31" y="295.00" font-size="8.2">100</text>
<line x1="458.86" y1="281.40" x2="458.86" y2="285.60" stroke="#6f6f6f" stroke-width="0.9"/>
<text x="451.87" y="295.00" font-size="8.2">120</text>
<text x="369.66" y="307.70" font-size="9" textLength="42.91" lengthAdjust="spacingAndGlyphs">Time (min)</text>
<g transform="translate(283.30,275.10) rotate(-90)"><text x="-0.70" y="0" font-size="9">Blood glucose (mg dl</text><text x="83.54" y="-3.78" font-size="5.2">−1</text><text x="89.57" y="0" font-size="9">)</text></g>
<text x="316.26" y="181.20" font-size="7.0" textLength="63.99" lengthAdjust="spacingAndGlyphs">GTT: 18 wk on HFD</text>
<line x1="311.50" y1="252.50" x2="311.50" y2="259.00" stroke="#f98d55" stroke-width="0.8"/>
<line x1="309.40" y1="252.50" x2="313.60" y2="252.50" stroke="#f98d55" stroke-width="0.8"/>
<line x1="309.40" y1="259.00" x2="313.60" y2="259.00" stroke="#f98d55" stroke-width="0.8"/>
<line x1="336.06" y1="221.70" x2="336.06" y2="231.30" stroke="#f98d55" stroke-width="0.8"/>
<line x1="333.96" y1="221.70" x2="338.16" y2="221.70" stroke="#f98d55" stroke-width="0.8"/>
<line x1="333.96" y1="231.30" x2="338.16" y2="231.30" stroke="#f98d55" stroke-width="0.8"/>
<line x1="360.62" y1="214.90" x2="360.62" y2="223.30" stroke="#f98d55" stroke-width="0.8"/>
<line x1="358.52" y1="214.90" x2="362.72" y2="214.90" stroke="#f98d55" stroke-width="0.8"/>
<line x1="358.52" y1="223.30" x2="362.72" y2="223.30" stroke="#f98d55" stroke-width="0.8"/>
<line x1="385.18" y1="221.30" x2="385.18" y2="239.40" stroke="#f98d55" stroke-width="0.8"/>
<line x1="383.08" y1="221.30" x2="387.28" y2="221.30" stroke="#f98d55" stroke-width="0.8"/>
<line x1="383.08" y1="239.40" x2="387.28" y2="239.40" stroke="#f98d55" stroke-width="0.8"/>
<line x1="422.02" y1="235.30" x2="422.02" y2="252.20" stroke="#f98d55" stroke-width="0.8"/>
<line x1="419.92" y1="235.30" x2="424.12" y2="235.30" stroke="#f98d55" stroke-width="0.8"/>
<line x1="419.92" y1="252.20" x2="424.12" y2="252.20" stroke="#f98d55" stroke-width="0.8"/>
<line x1="458.86" y1="246.20" x2="458.86" y2="258.20" stroke="#f98d55" stroke-width="0.8"/>
<line x1="456.76" y1="246.20" x2="460.96" y2="246.20" stroke="#f98d55" stroke-width="0.8"/>
<line x1="456.76" y1="258.20" x2="460.96" y2="258.20" stroke="#f98d55" stroke-width="0.8"/>
<polyline points="311.50,255.80 336.06,226.30 360.62,219.00 385.18,229.90 422.02,244.00 458.86,252.20" fill="none" stroke="#ff5a00" stroke-width="1.0" stroke-linejoin="round"/>
<circle cx="311.50" cy="255.80" r="2.6" fill="#ff5a00"/>
<circle cx="336.06" cy="226.30" r="2.6" fill="#ff5a00"/>
<circle cx="360.62" cy="219.00" r="2.6" fill="#ff5a00"/>
<circle cx="385.18" cy="229.90" r="2.6" fill="#ff5a00"/>
<circle cx="422.02" cy="244.00" r="2.6" fill="#ff5a00"/>
<circle cx="458.86" cy="252.20" r="2.6" fill="#ff5a00"/>
<line x1="311.50" y1="243.50" x2="311.50" y2="250.00" stroke="#5a5a5a" stroke-width="0.8"/>
<line x1="309.40" y1="243.50" x2="313.60" y2="243.50" stroke="#5a5a5a" stroke-width="0.8"/>
<line x1="309.40" y1="250.00" x2="313.60" y2="250.00" stroke="#5a5a5a" stroke-width="0.8"/>
<line x1="336.06" y1="210.90" x2="336.06" y2="224.50" stroke="#5a5a5a" stroke-width="0.8"/>
<line x1="333.96" y1="210.90" x2="338.16" y2="210.90" stroke="#5a5a5a" stroke-width="0.8"/>
<line x1="333.96" y1="224.50" x2="338.16" y2="224.50" stroke="#5a5a5a" stroke-width="0.8"/>
<line x1="360.62" y1="197.30" x2="360.62" y2="214.50" stroke="#5a5a5a" stroke-width="0.8"/>
<line x1="358.52" y1="197.30" x2="362.72" y2="197.30" stroke="#5a5a5a" stroke-width="0.8"/>
<line x1="358.52" y1="214.50" x2="362.72" y2="214.50" stroke="#5a5a5a" stroke-width="0.8"/>
<line x1="385.18" y1="199.30" x2="385.18" y2="216.70" stroke="#5a5a5a" stroke-width="0.8"/>
<line x1="383.08" y1="199.30" x2="387.28" y2="199.30" stroke="#5a5a5a" stroke-width="0.8"/>
<line x1="383.08" y1="216.70" x2="387.28" y2="216.70" stroke="#5a5a5a" stroke-width="0.8"/>
<line x1="422.02" y1="200.40" x2="422.02" y2="222.40" stroke="#5a5a5a" stroke-width="0.8"/>
<line x1="419.92" y1="200.40" x2="424.12" y2="200.40" stroke="#5a5a5a" stroke-width="0.8"/>
<line x1="419.92" y1="222.40" x2="424.12" y2="222.40" stroke="#5a5a5a" stroke-width="0.8"/>
<line x1="458.86" y1="207.20" x2="458.86" y2="236.30" stroke="#5a5a5a" stroke-width="0.8"/>
<line x1="456.76" y1="207.20" x2="460.96" y2="207.20" stroke="#5a5a5a" stroke-width="0.8"/>
<line x1="456.76" y1="236.30" x2="460.96" y2="236.30" stroke="#5a5a5a" stroke-width="0.8"/>
<polyline points="311.50,246.70 336.06,217.90 360.62,205.40 385.18,207.90 422.02,211.70 458.86,221.50" fill="none" stroke="#000000" stroke-width="1.0" stroke-linejoin="round"/>
<circle cx="311.50" cy="246.70" r="2.6" fill="#000000"/>
<circle cx="336.06" cy="217.90" r="2.6" fill="#000000"/>
<circle cx="360.62" cy="205.40" r="2.6" fill="#000000"/>
<circle cx="385.18" cy="207.90" r="2.6" fill="#000000"/>
<circle cx="422.02" cy="211.70" r="2.6" fill="#000000"/>
<circle cx="458.86" cy="221.50" r="2.6" fill="#000000"/>
<polygon points="382.30,189.80 382.88,191.35 384.53,191.42 383.24,192.45 383.68,194.05 382.30,193.14 380.92,194.05 381.36,192.45 380.07,191.42 381.72,191.35" fill="#1a1a1a"/>
<polygon points="387.30,189.80 387.88,191.35 389.53,191.42 388.24,192.45 388.68,194.05 387.30,193.14 385.92,194.05 386.36,192.45 385.07,191.42 386.72,191.35" fill="#1a1a1a"/>
<polygon points="414.20,191.40 414.78,192.95 416.43,193.02 415.14,194.05 415.58,195.65 414.20,194.74 412.82,195.65 413.26,194.05 411.97,193.02 413.62,192.95" fill="#1a1a1a"/>
<polygon points="419.00,191.40 419.58,192.95 421.23,193.02 419.94,194.05 420.38,195.65 419.00,194.74 417.62,195.65 418.06,194.05 416.77,193.02 418.42,192.95" fill="#1a1a1a"/>
<polygon points="423.80,191.40 424.38,192.95 426.03,193.02 424.74,194.05 425.18,195.65 423.80,194.74 422.42,195.65 422.86,194.05 421.57,193.02 423.22,192.95" fill="#1a1a1a"/>
<polygon points="428.60,191.40 429.18,192.95 430.83,193.02 429.54,194.05 429.98,195.65 428.60,194.74 427.22,195.65 427.66,194.05 426.37,193.02 428.02,192.95" fill="#1a1a1a"/>
<polygon points="453.00,199.40 453.58,200.95 455.23,201.02 453.94,202.05 454.38,203.65 453.00,202.74 451.62,203.65 452.06,202.05 450.77,201.02 452.42,200.95" fill="#1a1a1a"/>
<polygon points="458.00,199.40 458.58,200.95 460.23,201.02 458.94,202.05 459.38,203.65 458.00,202.74 456.62,203.65 457.06,202.05 455.77,201.02 457.42,200.95" fill="#1a1a1a"/>
<polygon points="463.00,199.40 463.58,200.95 465.23,201.02 463.94,202.05 464.38,203.65 463.00,202.74 461.62,203.65 462.06,202.05 460.77,201.02 462.42,200.95" fill="#1a1a1a"/>
<line x1="327.10" y1="260.40" x2="338.00" y2="260.40" stroke="#000000" stroke-width="0.9"/>
<circle cx="332.60" cy="260.40" r="2.15" fill="#000000"/>
<line x1="327.10" y1="270.40" x2="338.00" y2="270.40" stroke="#ff5a00" stroke-width="0.9"/>
<circle cx="332.60" cy="270.40" r="2.15" fill="#ff5a00"/>
<text x="343.10" y="262.80" font-size="7.0" textLength="31.11" lengthAdjust="spacingAndGlyphs">AAV-GFP</text>
<text x="343.10" y="272.60" font-size="7.0" fill="#ff5a00" textLength="33.44" lengthAdjust="spacingAndGlyphs">AAV-irisin</text>
<text x="426.65" y="276.60" font-size="8.0" font-style="italic" textLength="4.55" lengthAdjust="spacingAndGlyphs" stroke="#231f20" stroke-width="0.12" stroke-linejoin="round">P</text>
<text x="432.79" y="277.10" font-size="7.6" textLength="3.85" lengthAdjust="spacingAndGlyphs">=</text>
<text x="438.53" y="276.60" font-size="7.6" textLength="26.01" lengthAdjust="spacingAndGlyphs">0.0008</text>
<text x="490.76" y="168.10" font-size="13" fill="#000" font-weight="bold" textLength="3.96" lengthAdjust="spacingAndGlyphs" stroke="#000" stroke-width="0.5" stroke-linejoin="round">f</text>
<line x1="526.90" y1="177.30" x2="526.90" y2="281.40" stroke="#8f8f8f" stroke-width="1"/>
<line x1="522.70" y1="281.40" x2="685.00" y2="281.40" stroke="#8f8f8f" stroke-width="1"/>
<line x1="522.70" y1="281.40" x2="526.90" y2="281.40" stroke="#8f8f8f" stroke-width="1"/>
<text x="513.84" y="284.80" font-size="8.2">0</text>
<line x1="522.70" y1="246.70" x2="526.90" y2="246.70" stroke="#8f8f8f" stroke-width="1"/>
<text x="504.72" y="250.10" font-size="8.2">100</text>
<line x1="522.70" y1="212.00" x2="526.90" y2="212.00" stroke="#8f8f8f" stroke-width="1"/>
<text x="504.72" y="215.40" font-size="8.2">200</text>
<line x1="522.70" y1="177.30" x2="526.90" y2="177.30" stroke="#8f8f8f" stroke-width="1"/>
<text x="504.72" y="180.70" font-size="8.2">300</text>
<line x1="526.90" y1="281.40" x2="526.90" y2="285.60" stroke="#6f6f6f" stroke-width="0.9"/>
<text x="524.59" y="295.00" font-size="8.2">0</text>
<line x1="551.00" y1="281.40" x2="551.00" y2="285.60" stroke="#6f6f6f" stroke-width="0.9"/>
<text x="546.35" y="295.00" font-size="8.2">20</text>
<line x1="575.10" y1="281.40" x2="575.10" y2="285.60" stroke="#6f6f6f" stroke-width="0.9"/>
<text x="570.58" y="295.00" font-size="8.2">40</text>
<line x1="599.20" y1="281.40" x2="599.20" y2="285.60" stroke="#6f6f6f" stroke-width="0.9"/>
<text x="594.55" y="295.00" font-size="8.2">60</text>
<line x1="623.30" y1="281.40" x2="623.30" y2="285.60" stroke="#6f6f6f" stroke-width="0.9"/>
<text x="618.71" y="295.00" font-size="8.2">80</text>
<line x1="647.40" y1="281.40" x2="647.40" y2="285.60" stroke="#6f6f6f" stroke-width="0.9"/>
<text x="640.41" y="295.00" font-size="8.2">100</text>
<line x1="671.50" y1="281.40" x2="671.50" y2="285.60" stroke="#6f6f6f" stroke-width="0.9"/>
<text x="664.51" y="295.00" font-size="8.2">120</text>
<text x="584.96" y="307.70" font-size="9" textLength="42.71" lengthAdjust="spacingAndGlyphs">Time (min)</text>
<g transform="translate(497.60,275.60) rotate(-90)"><text x="-0.70" y="0" font-size="9">Blood glucose (mg dl</text><text x="83.54" y="-3.78" font-size="5.2">−1</text><text x="89.57" y="0" font-size="9">)</text></g>
<text x="531.53" y="181.00" font-size="7.0" textLength="60.63" lengthAdjust="spacingAndGlyphs">ITT: 18 wk on HFD</text>
<line x1="526.90" y1="203.00" x2="526.90" y2="216.30" stroke="#f98d55" stroke-width="0.8"/>
<line x1="524.80" y1="203.00" x2="529.00" y2="203.00" stroke="#f98d55" stroke-width="0.8"/>
<line x1="524.80" y1="216.30" x2="529.00" y2="216.30" stroke="#f98d55" stroke-width="0.8"/>
<line x1="551.00" y1="243.00" x2="551.00" y2="256.90" stroke="#f98d55" stroke-width="0.8"/>
<line x1="548.90" y1="243.00" x2="553.10" y2="243.00" stroke="#f98d55" stroke-width="0.8"/>
<line x1="548.90" y1="256.90" x2="553.10" y2="256.90" stroke="#f98d55" stroke-width="0.8"/>
<line x1="575.10" y1="255.60" x2="575.10" y2="268.40" stroke="#f98d55" stroke-width="0.8"/>
<line x1="573.00" y1="255.60" x2="577.20" y2="255.60" stroke="#f98d55" stroke-width="0.8"/>
<line x1="573.00" y1="268.40" x2="577.20" y2="268.40" stroke="#f98d55" stroke-width="0.8"/>
<line x1="599.20" y1="257.40" x2="599.20" y2="272.40" stroke="#f98d55" stroke-width="0.8"/>
<line x1="597.10" y1="257.40" x2="601.30" y2="257.40" stroke="#f98d55" stroke-width="0.8"/>
<line x1="597.10" y1="272.40" x2="601.30" y2="272.40" stroke="#f98d55" stroke-width="0.8"/>
<line x1="635.35" y1="256.80" x2="635.35" y2="267.50" stroke="#f98d55" stroke-width="0.8"/>
<line x1="633.25" y1="256.80" x2="637.45" y2="256.80" stroke="#f98d55" stroke-width="0.8"/>
<line x1="633.25" y1="267.50" x2="637.45" y2="267.50" stroke="#f98d55" stroke-width="0.8"/>
<line x1="671.50" y1="246.50" x2="671.50" y2="262.30" stroke="#f98d55" stroke-width="0.8"/>
<line x1="669.40" y1="246.50" x2="673.60" y2="246.50" stroke="#f98d55" stroke-width="0.8"/>
<line x1="669.40" y1="262.30" x2="673.60" y2="262.30" stroke="#f98d55" stroke-width="0.8"/>
<polyline points="526.90,209.80 551.00,250.00 575.10,262.00 599.20,265.20 635.35,262.30 671.50,253.70" fill="none" stroke="#ff5a00" stroke-width="1.0" stroke-linejoin="round"/>
<circle cx="526.90" cy="209.80" r="2.6" fill="#ff5a00"/>
<circle cx="551.00" cy="250.00" r="2.6" fill="#ff5a00"/>
<circle cx="575.10" cy="262.00" r="2.6" fill="#ff5a00"/>
<circle cx="599.20" cy="265.20" r="2.6" fill="#ff5a00"/>
<circle cx="635.35" cy="262.30" r="2.6" fill="#ff5a00"/>
<circle cx="671.50" cy="253.70" r="2.6" fill="#ff5a00"/>
<line x1="526.90" y1="190.40" x2="526.90" y2="217.00" stroke="#5a5a5a" stroke-width="0.8"/>
<line x1="524.80" y1="190.40" x2="529.00" y2="190.40" stroke="#5a5a5a" stroke-width="0.8"/>
<line x1="524.80" y1="217.00" x2="529.00" y2="217.00" stroke="#5a5a5a" stroke-width="0.8"/>
<line x1="551.00" y1="235.10" x2="551.00" y2="247.90" stroke="#5a5a5a" stroke-width="0.8"/>
<line x1="548.90" y1="235.10" x2="553.10" y2="235.10" stroke="#5a5a5a" stroke-width="0.8"/>
<line x1="548.90" y1="247.90" x2="553.10" y2="247.90" stroke="#5a5a5a" stroke-width="0.8"/>
<line x1="575.10" y1="242.30" x2="575.10" y2="253.00" stroke="#5a5a5a" stroke-width="0.8"/>
<line x1="573.00" y1="242.30" x2="577.20" y2="242.30" stroke="#5a5a5a" stroke-width="0.8"/>
<line x1="573.00" y1="253.00" x2="577.20" y2="253.00" stroke="#5a5a5a" stroke-width="0.8"/>
<line x1="599.20" y1="236.40" x2="599.20" y2="250.80" stroke="#5a5a5a" stroke-width="0.8"/>
<line x1="597.10" y1="236.40" x2="601.30" y2="236.40" stroke="#5a5a5a" stroke-width="0.8"/>
<line x1="597.10" y1="250.80" x2="601.30" y2="250.80" stroke="#5a5a5a" stroke-width="0.8"/>
<line x1="635.35" y1="229.50" x2="635.35" y2="243.90" stroke="#5a5a5a" stroke-width="0.8"/>
<line x1="633.25" y1="229.50" x2="637.45" y2="229.50" stroke="#5a5a5a" stroke-width="0.8"/>
<line x1="633.25" y1="243.90" x2="637.45" y2="243.90" stroke="#5a5a5a" stroke-width="0.8"/>
<line x1="671.50" y1="227.20" x2="671.50" y2="234.40" stroke="#5a5a5a" stroke-width="0.8"/>
<line x1="669.40" y1="227.20" x2="673.60" y2="227.20" stroke="#5a5a5a" stroke-width="0.8"/>
<line x1="669.40" y1="234.40" x2="673.60" y2="234.40" stroke="#5a5a5a" stroke-width="0.8"/>
<polyline points="526.90,203.80 551.00,241.50 575.10,247.90 599.20,243.60 635.35,236.70 671.50,230.70" fill="none" stroke="#000000" stroke-width="1.0" stroke-linejoin="round"/>
<circle cx="526.90" cy="203.80" r="2.6" fill="#000000"/>
<circle cx="551.00" cy="241.50" r="2.6" fill="#000000"/>
<circle cx="575.10" cy="247.90" r="2.6" fill="#000000"/>
<circle cx="599.20" cy="243.60" r="2.6" fill="#000000"/>
<circle cx="635.35" cy="236.70" r="2.6" fill="#000000"/>
<circle cx="671.50" cy="230.70" r="2.6" fill="#000000"/>
<polygon points="597.30,228.10 597.88,229.65 599.53,229.72 598.24,230.75 598.68,232.35 597.30,231.44 595.92,232.35 596.36,230.75 595.07,229.72 596.72,229.65" fill="#1a1a1a"/>
<polygon points="601.90,228.10 602.48,229.65 604.13,229.72 602.84,230.75 603.28,232.35 601.90,231.44 600.52,232.35 600.96,230.75 599.67,229.72 601.32,229.65" fill="#1a1a1a"/>
<polygon points="628.90,221.20 629.48,222.75 631.13,222.82 629.84,223.85 630.28,225.45 628.90,224.54 627.52,225.45 627.96,223.85 626.67,222.82 628.32,222.75" fill="#1a1a1a"/>
<polygon points="633.50,221.20 634.08,222.75 635.73,222.82 634.44,223.85 634.88,225.45 633.50,224.54 632.12,225.45 632.56,223.85 631.27,222.82 632.92,222.75" fill="#1a1a1a"/>
<polygon points="638.10,221.20 638.68,222.75 640.33,222.82 639.04,223.85 639.48,225.45 638.10,224.54 636.72,225.45 637.16,223.85 635.87,222.82 637.52,222.75" fill="#1a1a1a"/>
<polygon points="642.70,221.20 643.28,222.75 644.93,222.82 643.64,223.85 644.08,225.45 642.70,224.54 641.32,225.45 641.76,223.85 640.47,222.82 642.12,222.75" fill="#1a1a1a"/>
<polygon points="667.60,218.40 668.18,219.95 669.83,220.02 668.54,221.05 668.98,222.65 667.60,221.74 666.22,222.65 666.66,221.05 665.37,220.02 667.02,219.95" fill="#1a1a1a"/>
<polygon points="672.20,218.40 672.78,219.95 674.43,220.02 673.14,221.05 673.58,222.65 672.20,221.74 670.82,222.65 671.26,221.05 669.97,220.02 671.62,219.95" fill="#1a1a1a"/>
<polygon points="676.80,218.40 677.38,219.95 679.03,220.02 677.74,221.05 678.18,222.65 676.80,221.74 675.42,222.65 675.86,221.05 674.57,220.02 676.22,219.95" fill="#1a1a1a"/>
<line x1="625.70" y1="184.40" x2="636.90" y2="184.40" stroke="#000000" stroke-width="0.9"/>
<circle cx="631.20" cy="184.40" r="2.15" fill="#000000"/>
<line x1="625.70" y1="194.20" x2="636.90" y2="194.20" stroke="#ff5a00" stroke-width="0.9"/>
<circle cx="631.20" cy="194.20" r="2.15" fill="#ff5a00"/>
<text x="641.70" y="186.80" font-size="7.0" textLength="31.01" lengthAdjust="spacingAndGlyphs">AAV-GFP</text>
<text x="641.70" y="196.60" font-size="7.0" fill="#ff5a00" textLength="33.24" lengthAdjust="spacingAndGlyphs">AAV-irisin</text>
<text x="642.45" y="276.80" font-size="8.0" font-style="italic" textLength="4.55" lengthAdjust="spacingAndGlyphs" stroke="#231f20" stroke-width="0.12" stroke-linejoin="round">P</text>
<text x="648.62" y="277.30" font-size="7.6" textLength="3.50" lengthAdjust="spacingAndGlyphs">=</text>
<text x="654.07" y="276.80" font-size="7.6" textLength="22.43" lengthAdjust="spacingAndGlyphs">0.0161</text>
</g>
</svg>
</body></html>
